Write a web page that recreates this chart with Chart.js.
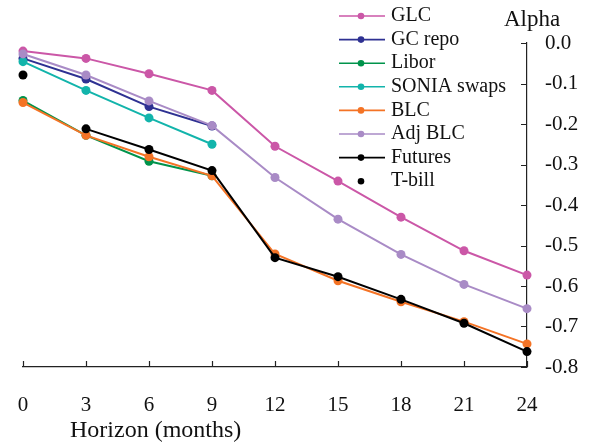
<!DOCTYPE html>
<html>
<head>
<meta charset="utf-8">
<script src="https://cdn.jsdelivr.net/npm/chart.js@4"></script>
<style>
  html, body { margin: 0; padding: 0; background: #fff; }
  #wrap { width: 594px; height: 446px; }
</style>
</head>
<body>
<div id="wrap"><canvas id="chartAlpha"></canvas></div>
<script>
// horizons in months
var horizons = [0, 3, 6, 9, 12, 15, 18, 21, 24];
var horizonsShort = [0, 3, 6, 9];
var futuresHorizons = [3, 6, 9, 12, 15, 18, 21, 24];

var glc = [-0.020, -0.038, -0.076, -0.117, -0.255, -0.341, -0.430, -0.513, -0.573];
var gcRepo = [-0.038, -0.089, -0.157, -0.205];
var libor = [-0.142, -0.228, -0.292, -0.328];
var sonia = [-0.046, -0.117, -0.185, -0.250];
var blc = [-0.147, -0.228, -0.281, -0.328, -0.521, -0.587, -0.639, -0.688, -0.743];
var adjBlc = [-0.027, -0.079, -0.143, -0.204, -0.332, -0.435, -0.522, -0.596, -0.656];
var futures = [-0.212, -0.263, -0.315, -0.530, -0.577, -0.633, -0.692, -0.762];
var tbill = [-0.079];

var xTicks = [0, 3, 6, 9, 12, 15, 18, 21, 24];
var yTicks = [0, -0.1, -0.2, -0.3, -0.4, -0.5, -0.6, -0.7, -0.8];

var serif = "'Liberation Serif', 'DejaVu Serif', serif";

function pts(xs, ys) {
    return ys.map(function (v, i) { return { x: xs[i], y: v }; });
}

var seriesList = [
    { label: "GLC", xs: horizons, ys: glc, color: "#cb57a7", line: true },
    { label: "GC repo", xs: horizonsShort, ys: gcRepo, color: "#2e3192", line: true },
    { label: "Libor", xs: horizonsShort, ys: libor, color: "#00934b", line: true },
    { label: "SONIA swaps", xs: horizonsShort, ys: sonia, color: "#12b4ab", line: true },
    { label: "BLC", xs: horizons, ys: blc, color: "#f47325", line: true },
    { label: "Adj BLC", xs: horizons, ys: adjBlc, color: "#a98bc6", line: true },
    { label: "Futures", xs: futuresHorizons, ys: futures, color: "#000000", line: true },
    { label: "T-bill", xs: [0], ys: tbill, color: "#000000", line: false },
];

var datasets = seriesList.map(function (s, i) {
    return {
        label: s.label,
        data: pts(s.xs, s.ys),
        borderColor: s.color,
        backgroundColor: s.color,
        borderWidth: 2,
        showLine: s.line,
        pointRadius: 4.5,
        pointHoverRadius: 4.5,
        pointBorderWidth: 0,
        clip: false,
        order: seriesList.length - i,
    };
});

// inward tick marks, axis titles and the legend
var extras = {
    id: "extras",
    afterDraw: function (chart) {
        var c = chart.ctx;
        var xs = chart.scales.x, ys = chart.scales.y;
        c.save();
        c.strokeStyle = "#222";
        c.lineWidth = 1.2;
        c.beginPath();
        xTicks.forEach(function (t) {
            var px = Math.round(xs.getPixelForValue(t)) + 0.5;
            c.moveTo(px, xs.top);
            c.lineTo(px, xs.top - 6);
        });
        yTicks.forEach(function (t) {
            var py = Math.round(ys.getPixelForValue(t)) + 0.5;
            c.moveTo(ys.left, py);
            c.lineTo(ys.left - 6, py);
        });
        c.stroke();

        c.fillStyle = "#111";
        c.textBaseline = "middle";
        c.textAlign = "left";
        c.font = "23px " + serif;
        c.fillText("Alpha", ys.left - 23, 20);
        c.font = "24px " + serif;
        c.fillText("Horizon (months)", xs.left + 47, 431);

        // legend
        var lx = 339, rowY = 16, step = 23.6;
        c.font = "20px " + serif;
        seriesList.forEach(function (s, i) {
            var y = rowY + i * step;
            if (s.line) {
                c.strokeStyle = s.color;
                c.lineWidth = 1.6;
                c.beginPath();
                c.moveTo(lx, y);
                c.lineTo(lx + 46, y);
                c.stroke();
            }
            c.fillStyle = s.color;
            c.beginPath();
            c.arc(lx + 22, y, 3.3, 0, Math.PI * 2);
            c.fill();
            c.fillStyle = "#111";
            c.fillText(s.label, lx + 52, y);
        });
        c.restore();
    },
};

new Chart(document.getElementById("chartAlpha"), {
    type: "scatter",
    data: { datasets: datasets },
    options: {
        responsive: true,
        maintainAspectRatio: false,
        animation: false,
        events: [],
        layout: {
            padding: { left: 23, top: 43, right: 0, bottom: 0 },
        },
        plugins: {
            legend: { display: false },
            tooltip: { enabled: false },
        },
        scales: {
            x: {
                type: "linear",
                position: "bottom",
                min: 0,
                max: 24,
                afterBuildTicks: function (scale) {
                    scale.ticks = xTicks.map(function (v) { return { value: v }; });
                },
                afterFit: function (scale) {
                    scale.height = 79;
                    scale.paddingLeft = 0;
                    scale.paddingRight = 0;
                },
                grid: { display: false, drawTicks: false },
                border: { display: true, color: "#222", width: 1.2 },
                ticks: {
                    padding: 26,
                    color: "#111",
                    font: { family: serif, size: 21 },
                    maxRotation: 0,
                    autoSkip: false,
                },
            },
            y: {
                type: "linear",
                position: "right",
                min: -0.8,
                max: 0,
                afterBuildTicks: function (scale) {
                    scale.ticks = yTicks.map(function (v) { return { value: v }; });
                },
                afterFit: function (scale) { scale.width = 67; },
                grid: { display: false, drawTicks: false },
                border: { display: true, color: "#222", width: 1.2 },
                ticks: {
                    padding: 18,
                    color: "#111",
                    font: { family: serif, size: 21 },
                    callback: function (v) {
                        return Math.abs(v) < 1e-9 ? "0.0" : v.toFixed(1);
                    },
                },
            },
        },
    },
    plugins: [extras],
});
</script>
</body>
</html>
